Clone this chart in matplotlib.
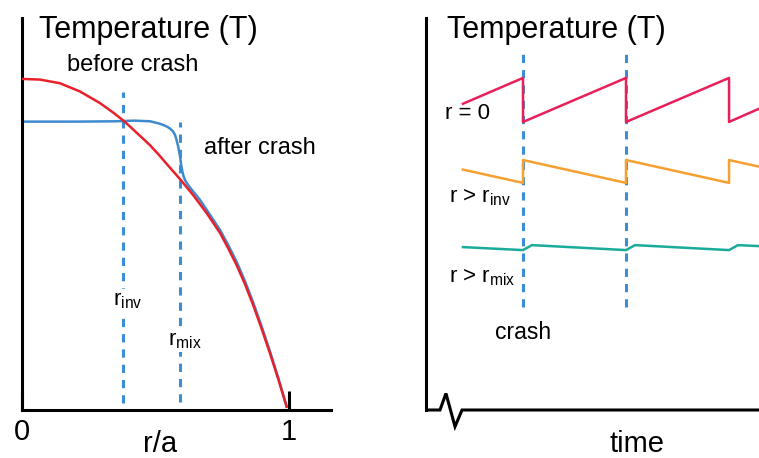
import matplotlib.pyplot as plt

plt.rcParams['font.family'] = ['Liberation Sans', 'DejaVu Sans']
plt.rcParams['mathtext.fontset'] = 'custom'
plt.rcParams['mathtext.rm'] = 'Liberation Sans'
plt.rcParams['mathtext.it'] = 'Liberation Sans'

# Left panel: radial temperature profile (r/a, T)
r_before = [0.0, 0.067, 0.142, 0.217, 0.292, 0.342, 0.383, 0.442, 0.479, 0.510, 0.542,
            0.592, 0.642, 0.692, 0.742, 0.773, 0.804, 0.835, 0.866, 0.897, 0.929,
            0.960, 0.991]
T_before = [1.0, 0.998, 0.987, 0.962, 0.927, 0.898, 0.872, 0.828, 0.800, 0.773, 0.743,
            0.697, 0.648, 0.594, 0.534, 0.487, 0.437, 0.380, 0.316, 0.246, 0.170,
            0.092, 0.01]

r_after = [0.0, 0.2, 0.35, 0.42, 0.48, 0.51, 0.529, 0.545, 0.554, 0.565, 0.573, 0.579,
           0.585, 0.589, 0.592, 0.596, 0.600, 0.605, 0.612, 0.62, 0.629, 0.645, 0.667,
           0.692, 0.742, 0.773, 0.804, 0.835, 0.866, 0.897, 0.929, 0.960, 0.991]
T_after = [0.871, 0.871, 0.872, 0.874, 0.872, 0.866, 0.861, 0.855, 0.850, 0.842, 0.831,
           0.815, 0.795, 0.778, 0.765, 0.74, 0.722, 0.706, 0.692, 0.682, 0.672, 0.656,
           0.634, 0.604, 0.543, 0.497, 0.447, 0.389, 0.324, 0.253, 0.176, 0.096, 0.01]

r_inv = 0.378
r_mix = 0.592

# Right panel: time traces (time in units of crash period)
t_core = [0.417, 1.0, 1.0, 2.0, 2.0, 3.0, 3.0, 3.291]
T_core = [0.925, 1.003, 0.870, 1.003, 0.870, 1.003, 0.870, 0.91]

t_inv = [0.417, 1.0, 1.0, 2.0, 2.0, 3.0, 3.0, 3.291]
T_inv = [0.726, 0.686, 0.755, 0.686, 0.755, 0.686, 0.755, 0.735]

t_mix = [0.417, 1.0, 1.087, 2.0, 2.087, 3.0, 3.087, 3.291]
T_mix = [0.492, 0.483, 0.498, 0.483, 0.498, 0.483, 0.498, 0.495]

crash_times = [1.0, 2.0]

# time axis with a break mark
t_axis = [0.068, 0.194, 0.252, 0.340, 0.408, 3.291]
T_axis = [0.0, 0.0, 0.05, -0.05, 0.0, 0.0]

blue = '#3b8ed6'
dash = (2.7, 2.3)

fig = plt.figure(figsize=(7.59, 4.58), dpi=100)

# ---------------- left panel ----------------
ax1 = fig.add_axes([22 / 759, 48 / 458, 309 / 759, 392 / 458])
ax1.set_xlim(0, 1.157)
ax1.set_ylim(0, 1.184)
for side in ['top', 'right']:
    ax1.spines[side].set_visible(False)
for side in ['left', 'bottom']:
    ax1.spines[side].set_linewidth(2.2)
ax1.set_yticks([])
ax1.set_xticks([0, 1])
ax1.set_xticklabels(['0', '1'], fontsize=21)
ax1.tick_params(axis='x', direction='in', length=14, width=2.2, pad=6)

ax1.plot([r_inv, r_inv], [0.02, 0.96], color=blue, lw=2.2, dashes=dash)
ax1.plot([r_mix, r_mix], [0.024, 0.87], color=blue, lw=2.2, dashes=dash)
ax1.plot(r_before, T_before, color='#e8202a', lw=1.8, zorder=3)
ax1.plot(r_after, T_after, color='#3d8ad0', lw=1.8, zorder=2)

ax1.text(0.472, 1.148, 'Temperature (T)', fontsize=22, ha='center', va='center')
ax1.text(0.416, 1.042, 'before crash', fontsize=17, ha='center', va='center')
ax1.text(0.891, 0.79, 'after crash', fontsize=17, ha='center', va='center')
ax1.text(0.397, 0.33, r'r$_\mathregular{inv}$', fontsize=16, ha='center', va='center',
         bbox=dict(facecolor='white', edgecolor='none', pad=1), zorder=4)
ax1.text(0.61, 0.21, r'r$_\mathregular{mix}$', fontsize=16, ha='center', va='center',
         bbox=dict(facecolor='white', edgecolor='none', pad=1), zorder=4)
ax1.text(0.517, -0.06, 'r/a', fontsize=21, ha='center', va='top', clip_on=False)

# ---------------- right panel ----------------
ax2 = fig.add_axes([426 / 759, 48 / 458, 333 / 759, 392 / 458])
ax2.set_xlim(0.0583, 3.291)
ax2.set_ylim(0, 1.184)
for side in ['top', 'right', 'bottom']:
    ax2.spines[side].set_visible(False)
ax2.spines['left'].set_linewidth(2.2)
ax2.set_xticks([])
ax2.set_yticks([])
ax2.plot(t_axis, T_axis, color='black', lw=2.2, clip_on=False, solid_joinstyle='miter')

for tc in crash_times:
    ax2.plot([tc, tc], [0.311, 1.088], color=blue, lw=2.2, dashes=dash)
ax2.plot(t_core, T_core, color='#e8205a', lw=1.8)
ax2.plot(t_inv, T_inv, color='#f5a030', lw=1.8)
ax2.plot(t_mix, T_mix, color='#1aab9b', lw=1.8)

ax2.text(1.32, 1.148, 'Temperature (T)', fontsize=22, ha='center', va='center')
ax2.text(0.466, 0.897, 'r = 0', fontsize=16, ha='center', va='center')
ax2.text(0.583, 0.643, r'r > r$_\mathregular{inv}$', fontsize=16, ha='center', va='center')
ax2.text(0.60, 0.40, r'r > r$_\mathregular{mix}$', fontsize=16, ha='center', va='center')
ax2.text(1.0, 0.233, 'crash', fontsize=16.5, ha='center', va='center')
ax2.text(2.107, -0.06, 'time', fontsize=21, ha='center', va='top', clip_on=False)

fig.savefig('out.png', dpi=100)
